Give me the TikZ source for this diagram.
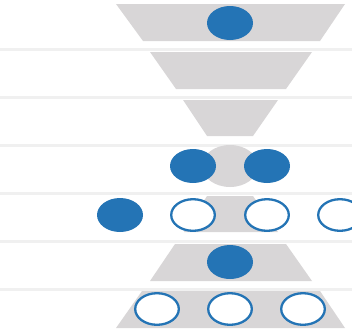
\documentclass[tikz,border=0pt]{standalone}
\usetikzlibrary{shapes.geometric}
\definecolor{dotblue}{RGB}{36,116,181}
\definecolor{slab}{RGB}{216,214,215}
\definecolor{rule}{RGB}{240,240,240}
\tikzset{
  full/.style={ellipse, inner sep=0pt, minimum width=46pt, minimum height=34pt, fill=dotblue},
  hollow/.style={ellipse, inner sep=0pt, minimum width=43.6pt, minimum height=31.6pt, fill=white, draw=dotblue, line width=2.3pt},
  slabfill/.style={fill=slab},
  rowrule/.style={draw=rule, line width=3pt}
}
\begin{document}
\begin{tikzpicture}[x=1pt, y=-1pt]
\useasboundingbox (0,0) rectangle (352,333);
\begin{scope}
\clip (0,0) rectangle (352,333);
% row separators
\foreach \yy in {49.3,97.3,145.3,193.3,241.3,289.3}
  \draw[rowrule] (0,\yy) -- (352,\yy);
% trapezoid slabs
\fill[slabfill] (116,4) -- (345,4) -- (320,41) -- (143,41) -- cycle;
\fill[slabfill] (150,52) -- (312,52) -- (286,89) -- (176,89) -- cycle;
\fill[slabfill] (183,100) -- (278,100) -- (253,136) -- (207,136) -- cycle;
\fill[slabfill] (230,166) ellipse [x radius=28, y radius=21];
\fill[slabfill] (207,196) -- (253,196) -- (278,232) -- (184,232) -- cycle;
\fill[slabfill] (175,244) -- (286,244) -- (312,281) -- (150,281) -- cycle;
\fill[slabfill] (142,291) -- (320,291) -- (345,328) -- (116,328) -- cycle;
% dots
\node[full] (a1) at (230,23) {};
\node[full] (d1) at (193,166) {};
\node[full] (d2) at (267,166) {};
\node[full] (e1) at (120,215) {};
\node[hollow] (e2) at (193,215) {};
\node[hollow] (e3) at (267,215) {};
\node[hollow] (e4) at (340,215) {};
\node[full] (f1) at (230,262) {};
\node[hollow] (g1) at (157,309) {};
\node[hollow] (g2) at (230,309) {};
\node[hollow] (g3) at (303,309) {};
\end{scope}
\end{tikzpicture}
\end{document}
